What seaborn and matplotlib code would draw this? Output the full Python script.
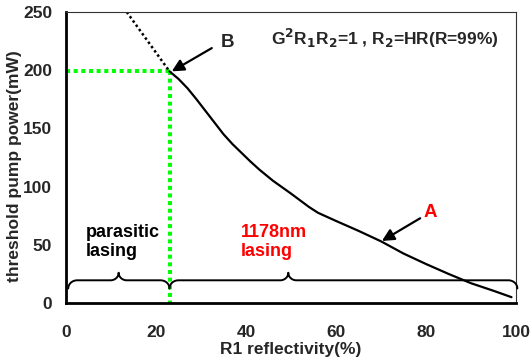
import numpy as np
import pandas as pd
import matplotlib
matplotlib.use("Agg")
import matplotlib.pyplot as plt
import seaborn as sns

# Threshold pump power versus output coupler reflectivity R1
r1 = [23, 25, 27, 29, 31, 33, 35, 37, 39, 41, 43, 46, 50, 54, 56, 60, 65, 70, 75, 80, 85, 90, 95, 99]
p_th = [199, 192.5, 184.5, 175, 165, 155, 145, 136.5, 129, 121.5, 114.5, 105, 94, 82.5, 77.5, 70.5, 62, 53, 42.5, 33.5, 25, 17, 10.5, 5]

# extrapolation of the curve above point B
r1_ext = [13.5, 23]
p_ext = [250, 199]

# point B (onset of 1178 nm lasing)
b_r1 = 23
b_p = 199

# brace spans: (start, end, cusp)
brace_spans = [(0.5, 23, 11.7), (23, 100.3, 49.4)]

x_ticks = [0, 20, 40, 60, 80, 100]
y_ticks = [0, 50, 100, 150, 200, 250]

sns.set_style("white")
plt.rcParams["font.family"] = ["Liberation Sans", "DejaVu Sans"]
plt.rcParams["font.weight"] = "bold"

fig = plt.figure(figsize=(5.31, 3.6), dpi=100)
ax = fig.add_axes([66 / 531, 1 - 303 / 360, 450 / 531, 291 / 360])

df = pd.DataFrame({"R1": r1, "P": p_th})
sns.lineplot(data=df, x="R1", y="P", ax=ax, color="black", lw=1.6)
ax.plot(r1_ext, p_ext, color="black", lw=1.8, dashes=(1, 1.1))

# green guide lines to point B
green = "#00ff00"
ax.plot([0, b_r1], [b_p, b_p], color=green, lw=2.9, dashes=(1, 0.9),
        dash_capstyle="butt", clip_on=False, zorder=1)
ax.plot([b_r1, b_r1], [b_p, 0], color=green, lw=2.9, dashes=(1, 0.9),
        dash_capstyle="butt", clip_on=False, zorder=1)


def brace(x0, x1, xc, base=19.5, drop=7.0, rise=6.5, w_end=2.0, w_mid=1.8):
    t = np.linspace(0, np.pi / 2, 30)
    xs, ys = [], []
    # left end: vertical -> horizontal
    xs += list(x0 + w_end - w_end * np.cos(t)); ys += list(base - drop + drop * np.sin(t))
    # toward cusp: horizontal -> vertical up
    xs += list(xc - w_mid + w_mid * np.sin(t)); ys += list(base + rise - rise * np.cos(t))
    # away from cusp: vertical -> horizontal
    xs += list(xc + w_mid - w_mid * np.cos(t)); ys += list(base + rise - rise * np.sin(t))
    # right end: horizontal -> vertical down
    xs += list(x1 - w_end + w_end * np.sin(t)); ys += list(base - drop + drop * np.cos(t))
    return xs, ys


for s, e, c in brace_spans:
    bx, by = brace(s, e, c)
    ax.plot(bx, by, color="black", lw=1.4, clip_on=False, zorder=3)

ax.text(4.4, 52, "parasitic\nlasing", fontsize=13, fontweight="bold",
        color="black", ha="left", va="center", linespacing=1.15)
ax.text(38.8, 52, "1178nm\nlasing", fontsize=13, fontweight="bold",
        color="red", ha="left", va="center", linespacing=1.15)

ax.annotate("", xy=(b_r1 + 0.5, b_p), xytext=(32.4, 219),
            arrowprops=dict(arrowstyle="-|>", color="black", lw=1.6,
                            mutation_scale=18, shrinkA=0, shrinkB=0))
ax.text(35.8, 224, "B", fontsize=13.5, fontweight="bold", ha="center", va="center")

ax.annotate("", xy=(70.2, 53.3), xytext=(78.7, 72.8),
            arrowprops=dict(arrowstyle="-|>", color="black", lw=1.6,
                            mutation_scale=18, shrinkA=0, shrinkB=0))
ax.text(81, 78, "A", fontsize=13.5, fontweight="bold", color="red",
        ha="center", va="center")

ax.text(70.8, 227.5, r"G$^\mathbf{2}$R$_\mathbf{1}$R$_\mathbf{2}$=1 , R$_\mathbf{2}$=HR(R=99%)",
        fontsize=12.5, fontweight="bold", ha="center", va="center")

ax.set_xlim(0, 100)
ax.set_ylim(0, 250)
ax.set_xticks(x_ticks)
ax.set_yticks(y_ticks)
ax.tick_params(direction="in", length=4, width=1, color="#555555",
               labelsize=12.5, pad=16)
ax.tick_params(axis="y", pad=10)
for lab in ax.get_xticklabels() + ax.get_yticklabels():
    lab.set_fontweight("bold")
ax.set_xlabel("R1 reflectivity(%)", fontsize=12.5, fontweight="bold", labelpad=1)
ax.set_ylabel("threshold pump power(mW)", fontsize=12.5, fontweight="bold")
ax.yaxis.set_label_coords(-0.098, 0.47)

for side in ["left", "bottom"]:
    ax.spines[side].set_linewidth(2)
    ax.spines[side].set_color("black")
for side in ["top", "right"]:
    ax.spines[side].set_linewidth(0.8)
    ax.spines[side].set_color("#333333")

fig.savefig("out.png", dpi=100)
